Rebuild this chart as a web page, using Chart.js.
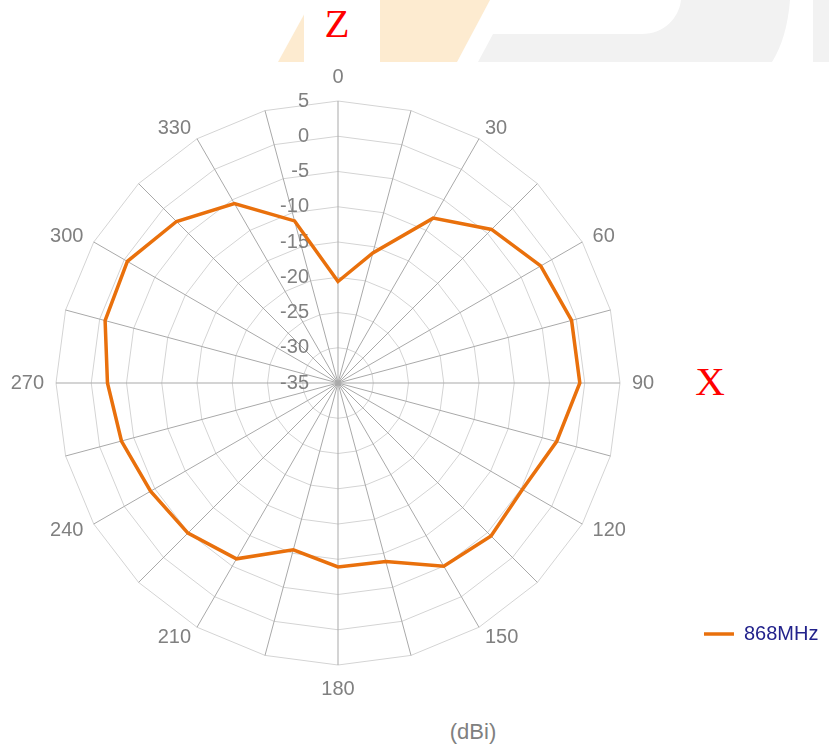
<!DOCTYPE html>
<html>
<head>
<meta charset="utf-8">
<script src="https://cdn.jsdelivr.net/npm/chart.js@4/dist/chart.umd.min.js"></script>
<style>
  html, body { margin: 0; padding: 0; background: #ffffff; }
  #wrap { position: relative; width: 829px; height: 747px; overflow: hidden; }
  #deco { position: absolute; left: 0; top: 0; }
  #c { position: absolute; left: 0; top: 0; }
</style>
</head>
<body>
<div id="wrap">
  <svg id="deco" width="829" height="747" xmlns="http://www.w3.org/2000/svg">
    <polygon points="278,62 312,0 490,0 457,62" fill="#FDEBD0"/>
    <rect x="304" y="0" width="76" height="62" fill="#ffffff"/>
    <path d="M478,62 L493,34 L642,34 C664,34 679,18 681,0 L790,0 Q787,38 772,62 Z" fill="#F2F2F2"/>
    <rect x="813" y="0" width="16" height="62" fill="#F2F2F2"/>
    <text x="337" y="37" text-anchor="middle" font-family="'Liberation Serif','Times New Roman',serif" font-size="41" fill="#FF0000">Z</text>
    <text x="710" y="395" text-anchor="middle" font-family="'Liberation Serif','Times New Roman',serif" font-size="41" fill="#FF0000">X</text>
    <text x="473" y="739" text-anchor="middle" font-family="'Liberation Sans',Arial,sans-serif" font-size="22" fill="#808080">(dBi)</text>
  </svg>
  <canvas id="c" width="829" height="747"></canvas>
</div>
<script>
// ---- data ----
const angles = [0, 15, 30, 45, 60, 75, 90, 105, 120, 135, 150, 165,
                180, 195, 210, 225, 240, 255, 270, 285, 300, 315, 330, 345];
const gain868 = [-20.6, -15.9, -8.0, -4.2, -1.8, -0.7, -0.7, -2.9, -4.8, -4.3, -5.0, -8.8,
                 -8.9, -10.5, -6.2, -4.9, -4.3, -3.2, -2.3, -0.8, -0.5, -2.6, -5.6, -11.2];
const tickLabels = ['-35', '-30', '-25', '-20', '-15', '-10', '-5', '0', '5'];
const seriesName = '868MHz';

const FONT = "'Liberation Sans', Arial, Helvetica, sans-serif";
const GRAY = '#808080';
const ORANGE = '#E9700C';

const tickLabelPlugin = {
  id: 'leftTickLabels',
  beforeDatasetsDraw(chart) {
    const s = chart.scales.r;
    const ctx = chart.ctx;
    ctx.save();
    ctx.font = '20px ' + FONT;
    ctx.fillStyle = GRAY;
    ctx.textAlign = 'right';
    ctx.textBaseline = 'middle';
    s.ticks.forEach((t) => {
      const d = s.getDistanceFromCenterForValue(t.value);
      ctx.fillText(t.label, s.xCenter - 29, s.yCenter - d);
    });
    ctx.restore();
  }
};

new Chart(document.getElementById('c'), {
  type: 'radar',
  data: {
    labels: angles.map(String),
    datasets: [{
      label: seriesName,
      data: gain868,
      borderColor: ORANGE,
      backgroundColor: ORANGE,
      borderWidth: 3.5,
      fill: false,
      tension: 0,
      pointRadius: 0,
      pointHoverRadius: 0,
      pointBorderWidth: 3.5,
      pointBorderColor: ORANGE,
      pointBackgroundColor: ORANGE
    }]
  },
  options: {
    responsive: false,
    animation: false,
    devicePixelRatio: 1,
    layout: { padding: { left: 0, top: 65, right: 0.54, bottom: 46 } },
    scales: {
      r: {
        min: -35,
        max: 5,
        ticks: {
          stepSize: 5,
          display: false,
          callback: (v, i) => tickLabels[i]
        },
        grid: { circular: false, color: '#d4d4d4', lineWidth: 1 },
        angleLines: { color: '#a9a9a9', lineWidth: 1 },
        pointLabels: {
          padding: 12,
          color: GRAY,
          font: (ctx) => {
            const a = angles[ctx.index];
            return { size: 20, family: FONT, lineHeight: (a % 180 === 0) ? 1.2 : 0 };
          },
          callback: (lab) => (Number(lab) % 30 === 0 ? lab : '')
        }
      }
    },
    plugins: {
      legend: {
        position: 'right',
        align: 'start',
        title: { display: true, text: '', font: { size: 10, family: FONT }, padding: { top: 509, bottom: 0 } },
        labels: {
          usePointStyle: true,
          pointStyle: 'line',
          pointStyleWidth: 30,
          padding: 38,
          color: '#23238C',
          font: { size: 20, family: FONT }
        }
      },
      tooltip: { enabled: false }
    }
  },
  plugins: [tickLabelPlugin]
});
</script>
</body>
</html>
